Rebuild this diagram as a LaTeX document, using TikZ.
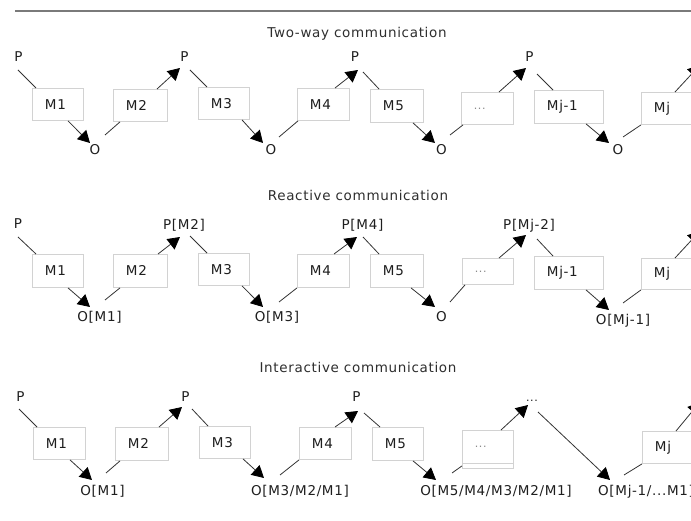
\documentclass[tikz,border=0pt]{standalone}
\usepackage{fontspec}
\setmainfont{DejaVu Sans}[LetterSpace=5]
\usetikzlibrary{arrows.meta,calc}

\definecolor{ink}{HTML}{1E1E1E}
\definecolor{titleink}{HTML}{2E2E2E}
\definecolor{linkc}{HTML}{333333}
\definecolor{boxline}{HTML}{D2D2D2}
\definecolor{rulec}{HTML}{7A7A7A}
\definecolor{dotgray}{HTML}{8A8A8A}

\tikzset{
  txt/.style={font=\fontsize{13.5}{16}\selectfont, text=ink, inner sep=0pt},
  lbl/.style={txt, anchor=base},
  heading/.style={txt, text=titleink, anchor=base},
  box/.style={txt, draw=boxline, line width=0.9pt, fill=white, anchor=north west,
              inner xsep=12.5pt, inner ysep=0pt, align=left},
  bw/.style={text width=#1pt-25pt},
  bh/.style={minimum height=#1pt},
  link/.style={draw=linkc, line width=0.8pt},
  arr/.style={link, -{Triangle[length=12pt,width=13pt,color=black]}},
  topline/.style={draw=rulec, line width=1.6pt}
}
\newcommand\gdots{{\color{dotgray}\fontsize{11}{13}\selectfont ...}}

\begin{document}
\begin{tikzpicture}[x=1pt,y=-1pt]
\useasboundingbox (0,0) rectangle (691,521);
\clip (0,0) rectangle (691,521);

\draw[topline] (15,11) -- (691,11);

% ---------------- Two-way communication ----------------
\node[heading] (t1) at (357,37.5) {Two-way communication};

\node[box,bw=51,bh=32] (r1m1)  at (32,88)  {M1};
\node[box,bw=54,bh=32] (r1m2)  at (113,89) {M2};
\node[box,bw=51,bh=32] (r1m3)  at (198,87) {M3};
\node[box,bw=52,bh=32] (r1m4)  at (297,88) {M4};
\node[box,bw=53,bh=33] (r1m5)  at (370,89) {M5};
\node[box,bw=52,bh=32] (r1d)   at (461,92) {\gdots};
\node[box,bw=69,bh=33] (r1mj1) at (534,90) {Mj-1};
\node[box,bw=60,bh=32] (r1mj)  at (641,92) {Mj};

\node[lbl] (r1p1) at (18.5,62)  {P};
\node[lbl] (r1o1) at (95,154.5) {O};
\node[lbl] (r1p2) at (184.5,62) {P};
\node[lbl] (r1o2) at (271,154.5) {O};
\node[lbl] (r1p3) at (355,62)   {P};
\node[lbl] (r1o3) at (441.5,154.5) {O};
\node[lbl] (r1p4) at (529.5,62) {P};
\node[lbl] (r1o4) at (618,154.5) {O};

\coordinate (r1a) at (18,70);   \coordinate (r1b) at (90,143);
\coordinate (r1c) at (105,135); \coordinate (r1d1) at (180,68);
\coordinate (r1e) at (190,70);  \coordinate (r1f) at (263,143);
\coordinate (r1g) at (279,137); \coordinate (r1h) at (358,70);
\coordinate (r1i) at (363,72);  \coordinate (r1j) at (435,143);
\coordinate (r1k) at (450,135); \coordinate (r1l) at (526,68);
\coordinate (r1m) at (537,74);  \coordinate (r1n) at (609,143);
\coordinate (r1o) at (623,137); \coordinate (r1q) at (700,65);

\draw[link] (r1a) -- ($(r1m1.north west)+(4,0)$);
\draw[arr]  ($(r1m1.south west)+(36,0)$) -- (r1b);
\draw[link] (r1c) -- ($(r1m2.south west)+(7,0)$);
\draw[arr]  ($(r1m2.north west)+(44,0)$) -- (r1d1);
\draw[link] (r1e) -- ($(r1m3.north west)+(9,0)$);
\draw[arr]  ($(r1m3.south west)+(44,0)$) -- (r1f);
\draw[link] (r1g) -- ($(r1m4.south west)+(1,0)$);
\draw[arr]  ($(r1m4.north west)+(38,0)$) -- (r1h);
\draw[link] (r1i) -- ($(r1m5.north west)+(9,0)$);
\draw[arr]  ($(r1m5.south west)+(43,0)$) -- (r1j);
\draw[link] (r1k) -- ($(r1d.south west)+(2,0)$);
\draw[arr]  ($(r1d.north west)+(38,0)$) -- (r1l);
\draw[link] (r1m) -- ($(r1mj1.north west)+(19,0)$);
\draw[arr]  ($(r1mj1.south west)+(52,0)$) -- (r1n);
\draw[link] (r1o) -- (r1mj.south west);
\draw[arr]  ($(r1mj.north west)+(34,0)$) -- (r1q);

% ---------------- Reactive communication ----------------
\node[heading] (t2) at (358,200.5) {Reactive communication};

\node[box,bw=51,bh=33] (r2m1)  at (32,254)  {M1};
\node[box,bw=54,bh=33] (r2m2)  at (113,254) {M2};
\node[box,bw=51,bh=32] (r2m3)  at (198,253) {M3};
\node[box,bw=52,bh=33] (r2m4)  at (297,254) {M4};
\node[box,bw=53,bh=33] (r2m5)  at (370,254) {M5};
\node[box,bw=51,bh=26] (r2d)   at (462,258) {\gdots};
\node[box,bw=69,bh=33] (r2mj1) at (534,256) {Mj-1};
\node[box,bw=60,bh=31] (r2mj)  at (641,258) {Mj};

\node[lbl] (r2p1) at (18,229)      {P};
\node[lbl] (r2o1) at (99.5,321.7)  {O[M1]};
\node[lbl] (r2p2) at (184,229.5)   {P[M2]};
\node[lbl] (r2o2) at (277,321.7)   {O[M3]};
\node[lbl] (r2p3) at (362.5,229.5) {P[M4]};
\node[lbl] (r2o3) at (441.5,321.5) {O};
\node[lbl] (r2p4) at (529,229.5)   {P[Mj-2]};
\node[lbl] (r2o4) at (623,325)     {O[Mj-1]};

\coordinate (r2a) at (18,237);   \coordinate (r2b) at (90,307);
\coordinate (r2c) at (105,300);  \coordinate (r2d1) at (180,237);
\coordinate (r2e) at (190,236);  \coordinate (r2f) at (263,307);
\coordinate (r2g) at (279,302);  \coordinate (r2h) at (357,237);
\coordinate (r2i) at (363,237);  \coordinate (r2j) at (435,307);
\coordinate (r2k) at (450,302);  \coordinate (r2l) at (526,235);
\coordinate (r2m) at (537,239);  \coordinate (r2n) at (609,310);
\coordinate (r2o) at (623,303);  \coordinate (r2q) at (700,231);

\draw[link] (r2a) -- ($(r2m1.north west)+(4,0)$);
\draw[arr]  ($(r2m1.south west)+(36,0)$) -- (r2b);
\draw[link] (r2c) -- ($(r2m2.south west)+(7,0)$);
\draw[arr]  ($(r2m2.north west)+(45,0)$) -- (r2d1);
\draw[link] (r2e) -- ($(r2m3.north west)+(9,0)$);
\draw[arr]  ($(r2m3.south west)+(44,0)$) -- (r2f);
\draw[link] (r2g) -- (r2m4.south west);
\draw[arr]  ($(r2m4.north west)+(37,0)$) -- (r2h);
\draw[link] (r2i) -- ($(r2m5.north west)+(9,0)$);
\draw[arr]  ($(r2m5.south west)+(41,0)$) -- (r2j);
\draw[link] (r2k) -- ($(r2d.south west)+(3,0)$);
\draw[arr]  ($(r2d.north west)+(37,0)$) -- (r2l);
\draw[link] (r2m) -- ($(r2mj1.north west)+(19,0)$);
\draw[arr]  ($(r2mj1.south west)+(52,0)$) -- (r2n);
\draw[link] (r2o) -- (r2mj.south west);
\draw[arr]  ($(r2mj.north west)+(34,0)$) -- (r2q);

% ---------------- Interactive communication ----------------
\node[heading] (t3) at (358,372.3) {Interactive communication};

\node[box,bw=52,bh=32] (r3m1) at (33,427)  {M1};
\node[box,bw=53,bh=33] (r3m2) at (115,427) {M2};
\node[box,bw=51,bh=32] (r3m3) at (199,426) {M3};
\node[box,bw=52,bh=32] (r3m4) at (299,427) {M4};
\node[box,bw=51,bh=33] (r3m5) at (372,427) {M5};
\node[box,bw=51,bh=33] (r3d)  at (462,430) {\gdots};
\draw[draw=boxline, line width=0.9pt] (r3d.south west) rectangle ($(r3d.south east)+(0,5)$);
\node[box,bw=60,bh=32] (r3mj) at (642,431) {Mj};

\node[lbl] (r3p1) at (20.5,401.5) {P};
\node[lbl] (r3o1) at (102.5,495)  {O[M1]};
\node[lbl] (r3p2) at (185.5,401.5) {P};
\node[lbl] (r3o2) at (300,495)    {O[M3/M2/M1]};
\node[lbl] (r3p3) at (356.5,402)  {P};
\node[lbl] (r3o3) at (496,495)    {O[M5/M4/M3/M2/M1]};
\node[txt, anchor=base] (r3dots) at (532,401) {\fontsize{11}{13}\selectfont ...};
\node[lbl, anchor=base west] (r3o4) at (598,495) {O[Mj-1/...M1]};

\coordinate (r3a) at (19,409);   \coordinate (r3b) at (92,480);
\coordinate (r3c) at (106,473);  \coordinate (r3d1) at (182,407);
\coordinate (r3e) at (192,409);  \coordinate (r3f) at (264,478);
\coordinate (r3g) at (280,475);  \coordinate (r3h) at (358,411);
\coordinate (r3i) at (364,413);  \coordinate (r3j) at (436,480);
\coordinate (r3k) at (452,473);  \coordinate (r3l) at (528,405);
\coordinate (r3m) at (538,412);  \coordinate (r3n) at (610,480);
\coordinate (r3o) at (624,475);  \coordinate (r3q) at (700,402);

\draw[link] (r3a) -- ($(r3m1.north west)+(4,0)$);
\draw[arr]  ($(r3m1.south west)+(37,0)$) -- (r3b);
\draw[link] (r3c) -- ($(r3m2.south west)+(5,0)$);
\draw[arr]  ($(r3m2.north west)+(44,0)$) -- (r3d1);
\draw[link] (r3e) -- ($(r3m3.north west)+(9,0)$);
\draw[arr]  ($(r3m3.south west)+(44,0)$) -- (r3f);
\draw[link] (r3g) -- (r3m4.south west);
\draw[arr]  ($(r3m4.north west)+(36,0)$) -- (r3h);
\draw[link] (r3i) -- ($(r3m5.north west)+(8,0)$);
\draw[arr]  ($(r3m5.south west)+(41,0)$) -- (r3j);
\draw[link] (r3k) -- ($(r3d.south west)+(0,2)$);
\draw[arr]  ($(r3d.north west)+(39,0)$) -- (r3l);
\draw[arr]  (r3m) -- (r3n);
\draw[link] (r3o) -- (r3mj.south west);
\draw[arr]  ($(r3mj.north west)+(34,0)$) -- (r3q);
\end{tikzpicture}
\end{document}
